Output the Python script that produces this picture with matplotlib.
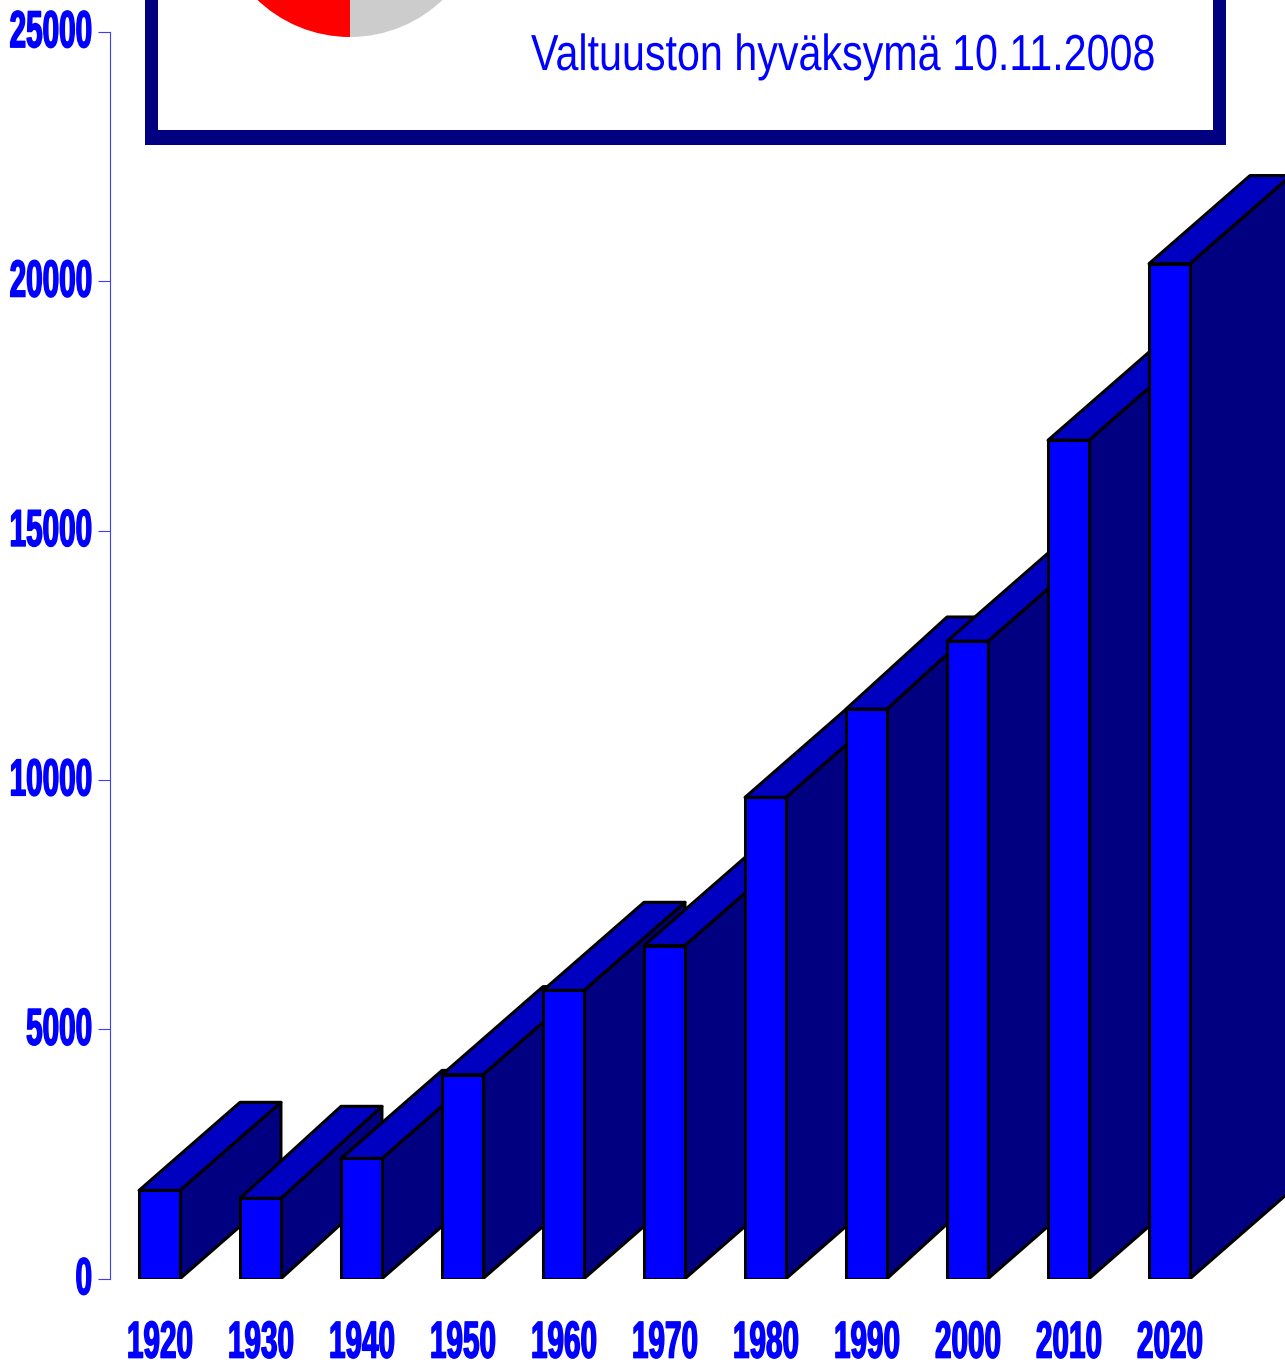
import matplotlib
matplotlib.use('Agg')
import matplotlib.pyplot as plt
from matplotlib.patches import Polygon, Rectangle, Wedge
from matplotlib.patheffects import AbstractPathEffect
from matplotlib.transforms import Affine2D, Bbox

years = ['1920', '1930', '1940', '1950', '1960', '1970', '1980', '1990', '2000', '2010', '2020']
values = [1770, 1610, 2410, 4090, 5780, 6680, 9650, 11420, 12780, 16810, 20350]
depths = [1766, 1846, 1766, 1766, 1766, 1766, 1766, 1846, 1766, 1766, 1766]
yticks = [0, 5000, 10000, 15000, 20000, 25000]
title = 'Valtuuston hyväksymä 10.11.2008'

W, H = 1285, 1364
FRONT, TOP, SIDE = '#0000ff', '#0000c0', '#000080'


# squeezes text sideways about a fixed pixel x, the labels are very condensed
class Squeeze(AbstractPathEffect):
    def __init__(self, sx, anchor, dy=0, stroke=0):
        super().__init__()
        self.sx = sx
        self.anchor = anchor
        self.dy = dy
        self.stroke = stroke

    def draw_path(self, renderer, gc, tpath, affine, rgbFace=None):
        a = affine + Affine2D().translate(-self.anchor, self.dy).scale(self.sx, 1).translate(self.anchor, 0)
        gc0 = renderer.new_gc()
        gc0.copy_properties(gc)
        gc0.set_linewidth(self.stroke)
        gc0.set_foreground(rgbFace)
        renderer.draw_path(gc0, tpath, a, rgbFace)
        gc0.restore()


def squeeze(text, sx, anchor, dy=0, stroke=0):
    text.set_path_effects([Squeeze(sx, anchor, dy, stroke)])
    # report the squeezed box too, the layout box is the wide one
    full = text.get_window_extent

    def extent(renderer=None, dpi=None):
        b = full(renderer, dpi)
        return Bbox.from_extents(anchor + (b.x0 - anchor) * sx, b.y0 + dy,
                                 anchor + (b.x1 - anchor) * sx, b.y1 + dy)
    text.get_window_extent = extent


plt.rcParams['font.family'] = ['Liberation Sans', 'DejaVu Sans']
fig = plt.figure(figsize=(W / 100, H / 100), dpi=100)

# pixel axes for the heading box
bg = fig.add_axes([0, 0, 1, 1])
bg.set_xlim(0, W)
bg.set_ylim(H, 0)
bg.axis('off')
bg.add_patch(Rectangle((145, 0), 1081, 145.3, fc='#000080', ec='none'))
bg.add_patch(Rectangle((157.5, 0), 1055.2, 130, fc='white', ec='none'))
bg.add_patch(Wedge((350, -97), 134, 90, 270, fc='#ff0000', ec='none'))
bg.add_patch(Wedge((350, -97), 134, 270, 90, fc='#cccccc', ec='none'))
t = bg.text(531, 70, title, color='#0000ff', fontsize=36.5, ha='left', va='baseline')
tw = t.get_window_extent(fig.canvas.get_renderer()).width
squeeze(t, 625 / tw, 531)

ax = fig.add_axes([109.5 / W, (H - 1278.7) / H, (W - 109.5) / W, 1247 / H])
ax.patch.set_visible(False)
ax.set_xlim((109.5 - 159.5) / 101, (W - 159.5) / 101)
ax.set_ylim(0, 25000)
for s in ['top', 'right', 'bottom']:
    ax.spines[s].set_visible(False)
ax.spines['left'].set_color('#3c3cff')
ax.spines['left'].set_linewidth(0.8)

bw = 0.405
dx = 101 / 101
for i, v in enumerate(values):
    l, r = i - bw / 2, i + bw / 2
    dy = depths[i]
    kw = dict(ec='black', lw=2.2, joinstyle='round', zorder=3 + i)
    ax.add_patch(Polygon([(r, 0), (r + dx, dy), (r + dx, v + dy), (r, v)], fc=SIDE, **kw))
    ax.add_patch(Polygon([(l, v), (l + dx, v + dy), (r + dx, v + dy), (r, v)], fc=TOP, **kw))
    ax.add_patch(Polygon([(l, 0), (r, 0), (r, v), (l, v)], fc=FRONT, **kw))

ax.set_yticks(yticks, [str(y) for y in yticks])
ax.tick_params(axis='y', length=9.0, width=0.8, color='#3c3cff', pad=3.6)
ax.set_xticks(range(len(years)), years)
ax.tick_params(axis='x', length=0, pad=29.5)
for lab in ax.get_yticklabels():
    lab.set(color='#0000ff', fontsize=37.5, fontweight='bold')
    squeeze(lab, 0.57, 92, dy=3.5, stroke=1.0)
for i, lab in enumerate(ax.get_xticklabels()):
    lab.set(color='#0000ff', fontsize=37.5, fontweight='bold')
    squeeze(lab, 0.57, ax.transData.transform((i, 0))[0] + 1, stroke=1.0)

fig.savefig('out.png')
